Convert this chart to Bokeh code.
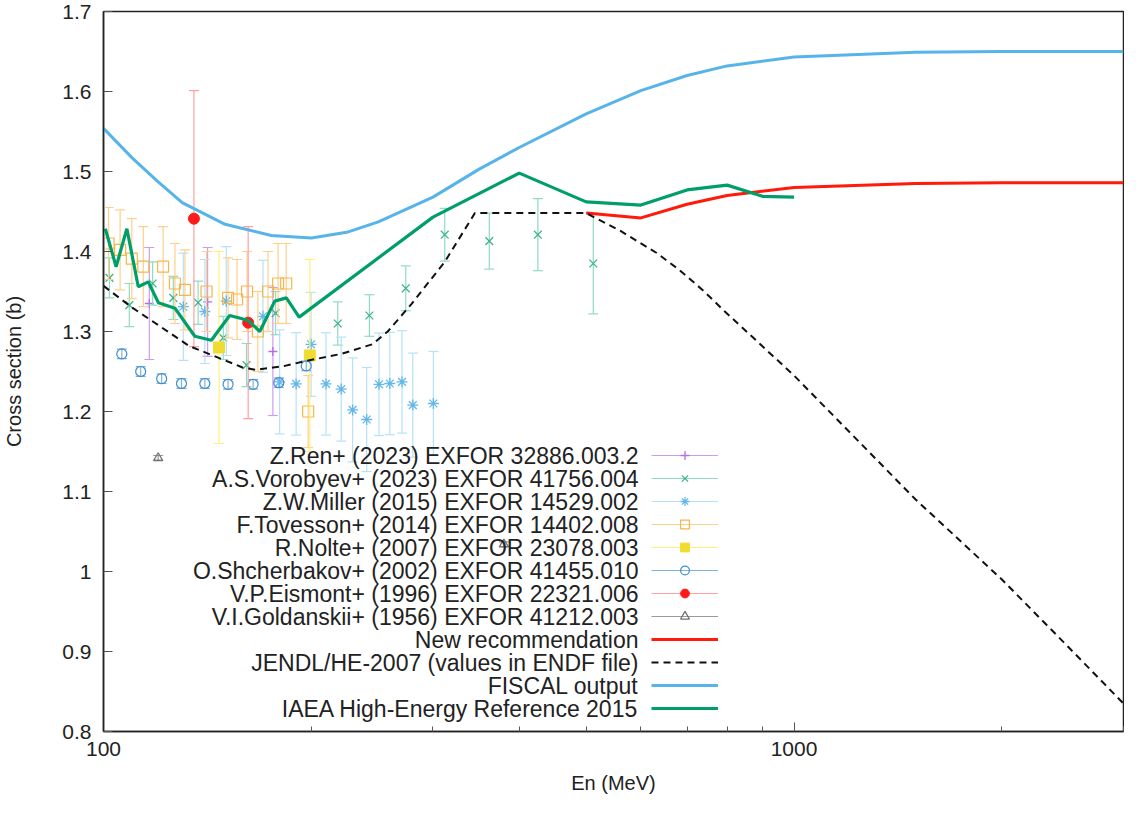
from bokeh.plotting import figure
from bokeh.models import (Range1d, FixedTicker, CustomJSTickFormatter, Legend,
                          LegendItem, ColumnDataSource, Label)
from bokeh.embed import file_html
from bokeh.resources import INLINE

# ---------------- data ----------------
ren_e = [116.5, 141.5, 175.9]
ren_v = [1.335, 1.337, 1.275]
ren_err = [0.070, 0.068, 0.080]

vor_e = [102, 109, 117.8, 126.2, 137.1, 149.1, 161.1, 177.5, 218.4, 242.7, 274, 312, 362, 425.6, 512]
vor_v = [1.367, 1.333, 1.360, 1.342, 1.336, 1.292, 1.258, 1.323, 1.310, 1.320, 1.354, 1.421, 1.413, 1.421, 1.385]
vor_err = [0.025, 0.027, 0.027, 0.027, 0.027, 0.027, 0.027, 0.027, 0.027, 0.026, 0.028, 0.033, 0.035, 0.045, 0.063]

mil_e = [130.5, 140.2, 150.6, 170.2, 179.9, 190.1, 199.8, 210, 220.9, 229.5, 240.5, 250.6, 259.8, 270.6, 280.5, 300.4]
mil_v = [1.331, 1.325, 1.338, 1.319, 1.237, 1.2345, 1.284, 1.2345, 1.228, 1.202, 1.190, 1.234, 1.235, 1.237, 1.208, 1.210]
mil_err = [0.067, 0.065, 0.068, 0.07, 0.065, 0.064, 0.065, 0.064, 0.065, 0.065, 0.065, 0.064, 0.064, 0.064, 0.065, 0.065]

tov_e = [101.7, 105.7, 109.9, 114.2, 122.0, 126.9, 131.2, 141.0, 151.5, 156.1, 161.4, 167.3, 173.1, 179.0, 183.9, 197.9]
tov_v = [1.410, 1.402, 1.391, 1.381, 1.381, 1.360, 1.352, 1.350, 1.342, 1.340, 1.350, 1.300, 1.350, 1.360, 1.360, 1.200]
tov_err = [0.045, 0.05, 0.05, 0.05, 0.05, 0.05, 0.05, 0.05, 0.05, 0.05, 0.05, 0.05, 0.05, 0.05, 0.05, 0.045]

nol_e = [147.0, 199.0]
nol_v = [1.280, 1.270]
nol_err = [0.12, 0.12]

shc_e = [106.3, 113.2, 121.4, 129.7, 140.2, 151.5, 164.7, 179.4, 196.6]
shc_v = [1.272, 1.250, 1.241, 1.235, 1.235, 1.234, 1.234, 1.236, 1.257]
shc_err = [0.006, 0.006, 0.006, 0.006, 0.006, 0.006, 0.006, 0.006, 0.006]

eis_e = [135.2, 162.0]
eis_v = [1.441, 1.311]
eis_err = [0.160, 0.120]

gol_e = [120.0, 380.0]
gol_v = [1.142, 1.034]
gol_err = [0.003, 0.003]

rec_e = [500, 600, 700, 800, 1000, 1500, 2000, 3000]
rec_v = [1.448, 1.442, 1.459, 1.470, 1.480, 1.485, 1.486, 1.486]

jen_e = [100, 110, 133, 159, 166, 176, 183, 196, 221, 245, 258, 279, 312, 345, 500,
         560, 633, 682, 737, 794, 1000, 1500, 2000, 2500, 3000]
jen_v = [1.357, 1.330, 1.282, 1.255, 1.252, 1.255, 1.257, 1.263, 1.272, 1.284, 1.300, 1.334, 1.387, 1.448, 1.448,
         1.426, 1.398, 1.377, 1.352, 1.325, 1.245, 1.090, 0.990, 0.905, 0.835]

fis_e = [100, 110, 120, 130, 150, 175, 200, 225, 250, 300, 350, 400, 500, 600, 700, 800, 1000, 1500, 2000, 3000]
fis_v = [1.554, 1.517, 1.487, 1.461, 1.434, 1.420, 1.417, 1.424, 1.437, 1.468, 1.503, 1.530, 1.572, 1.601, 1.620,
         1.632, 1.643, 1.649, 1.650, 1.650]

iaea_e = [100.6, 104.3, 108.1, 112.3, 116.1, 120.1, 126.9, 135.6, 143.3, 152.3, 161.9, 168.4, 177, 184, 192,
          300, 400, 500, 600, 700, 800, 900, 1000]
iaea_v = [1.4285, 1.381, 1.4285, 1.356, 1.362, 1.336, 1.329, 1.294, 1.289, 1.320, 1.314, 1.300, 1.338, 1.342, 1.318,
          1.443, 1.498, 1.462, 1.458, 1.477, 1.483, 1.469, 1.468]

x_major = [100, 1000]
x_minor = [200, 300, 400, 500, 600, 700, 800, 900, 2000, 3000]
y_major = [0.8, 0.9, 1.0, 1.1, 1.2, 1.3, 1.4, 1.5, 1.6, 1.7]

labels = [
    "Z.Ren+ (2023) EXFOR 32886.003.2",
    "A.S.Vorobyev+ (2023) EXFOR 41756.004",
    "Z.W.Miller (2015) EXFOR 14529.002",
    "F.Tovesson+ (2014) EXFOR 14402.008",
    "R.Nolte+ (2007) EXFOR 23078.003",
    "O.Shcherbakov+ (2002) EXFOR 41455.010",
    "V.P.Eismont+ (1996) EXFOR 22321.006",
    "V.I.Goldanskii+ (1956) EXFOR 41212.003",
    "New recommendation",
    "JENDL/HE-2007 (values in ENDF file)",
    "FISCAL output",
    "IAEA High-Energy Reference 2015",
]

# ---------------- figure ----------------
FONT = "Liberation Sans"
p = figure(width=1124, height=798, x_axis_type="log",
           x_range=Range1d(100, 3000), y_range=Range1d(0.8, 1.7),
           output_backend="svg", toolbar_location=None,
           min_border_left=102, min_border_right=1, min_border_top=11, min_border_bottom=67)
p.background_fill_color = "white"
p.border_fill_color = "white"
p.xgrid.visible = False
p.ygrid.visible = False
p.outline_line_color = "#222222"
p.outline_line_width = 1.5

p.xaxis.ticker = FixedTicker(ticks=x_major, minor_ticks=x_minor)
p.xaxis.formatter = CustomJSTickFormatter(code="return String(Math.round(tick));")
p.yaxis.ticker = FixedTicker(ticks=y_major)
p.yaxis.formatter = CustomJSTickFormatter(code="return String(Math.round(tick*10)/10);")
for ax in (p.xaxis[0], p.yaxis[0]):
    ax.axis_line_color = "#222222"
    ax.axis_line_width = 1.5
    ax.major_tick_in = 9
    ax.major_tick_out = 0
    ax.minor_tick_in = 5
    ax.minor_tick_out = 0
    ax.major_tick_line_color = "#555555"
    ax.minor_tick_line_color = "#555555"
    ax.major_label_text_font = FONT
    ax.major_label_text_font_size = "21px"
    ax.major_label_text_color = "#222222"
    ax.axis_label_text_font = FONT
    ax.axis_label_text_font_style = "normal"
    ax.axis_label_text_font_size = "20px"
    ax.axis_label_text_color = "#222222"
p.yaxis.minor_tick_line_color = None
p.yaxis.major_label_standoff = 12
p.xaxis.major_label_standoff = 10
p.xaxis.axis_label = "En (MeV)"
p.yaxis.axis_label = "Cross section (b)"
p.xaxis.axis_label_standoff = 13
p.yaxis.axis_label_standoff = 34


def exp_set(e, v, err, bar_color, marker, mcolor, size, fill=None, mline=1.0):
    src = ColumnDataSource(dict(x=e, y=v,
                                lo=[a - b for a, b in zip(v, err)],
                                hi=[a + b for a, b in zip(v, err)]))
    seg = p.segment(x0="x", y0="lo", x1="x", y1="hi", source=src,
                    line_color=bar_color, line_width=1.2)
    p.scatter(x="x", y="lo", source=src, marker="dash", size=10,
              line_color=bar_color, line_width=1.2)
    p.scatter(x="x", y="hi", source=src, marker="dash", size=10,
              line_color=bar_color, line_width=1.2)
    mk = p.scatter(x="x", y="y", source=src, marker=marker, size=size,
                   line_color=mcolor, fill_color=fill, line_width=mline)
    return [seg, mk]


items_r = []
items_r.append(exp_set(ren_e, ren_v, ren_err, "#cf9cf2", "cross", "#b46ee8", 9, None, 1.3))
items_r.append(exp_set(vor_e, vor_v, vor_err, "#8fdcc0", "x", "#3fb38a", 11, None, 1.3))
items_r.append(exp_set(mil_e, mil_v, mil_err, "#b5e2f7", "asterisk", "#63b8e8", 11, None, 1.3))
items_r.append(exp_set(tov_e, tov_v, tov_err, "#ffd08a", "square", "#f7b54a", 11, None, 1.2))
items_r.append(exp_set(nol_e, nol_v, nol_err, "#fff07a", "square", "#f0dc30", 11, "#f0dc30", 1.0))
items_r.append(exp_set(shc_e, shc_v, shc_err, "#7fb3df", "circle", "#3f8fd0", 10, None, 1.2))
items_r.append(exp_set(eis_e, eis_v, eis_err, "#ffa0a0", "circle", "#ff1a1a", 11, "#ff1a1a", 1.0))
items_r.append(exp_set(gol_e, gol_v, gol_err, "#9a9a9a", "triangle", "#707070", 9, None, 1.3))

r_rec = p.line(rec_e, rec_v, line_color="#ff1a0a", line_width=3)
r_jen = p.line(jen_e, jen_v, line_color="#111111", line_width=2, line_dash="7 5")
r_fis = p.line(fis_e, fis_v, line_color="#56b4e9", line_width=3)
r_iaea = p.line(iaea_e, iaea_v, line_color="#009e68", line_width=3.2)
items_r += [[r_rec], [r_jen], [r_fis], [r_iaea]]

# legend: samples via Legend (glyphs only), texts right-aligned to their left
LEG_X, LEG_BOTTOM, ROW_H, ROW_GAP = 548, 12, 22, 1
legend = Legend(items=[LegendItem(label=" ", renderers=r) for r in items_r],
                location=(LEG_X, LEG_BOTTOM), orientation="vertical",
                glyph_width=67, glyph_height=ROW_H, label_height=ROW_H, label_width=0,
                label_standoff=0, spacing=ROW_GAP, padding=0, margin=0,
                label_text_font_size="1px",
                background_fill_alpha=0, border_line_alpha=0)
p.add_layout(legend, "center")

n = len(labels)
for i, t in enumerate(labels):
    yc = LEG_BOTTOM + (n - 1 - i) * (ROW_H + ROW_GAP) + ROW_H / 2
    p.add_layout(Label(x=LEG_X - 13, y=yc, x_units="screen", y_units="screen", text=t,
                       text_align="right", text_baseline="middle", text_font=FONT,
                       text_font_size="23px", text_color="#222222"))

open("out.html", "w").write(file_html(p, INLINE))
